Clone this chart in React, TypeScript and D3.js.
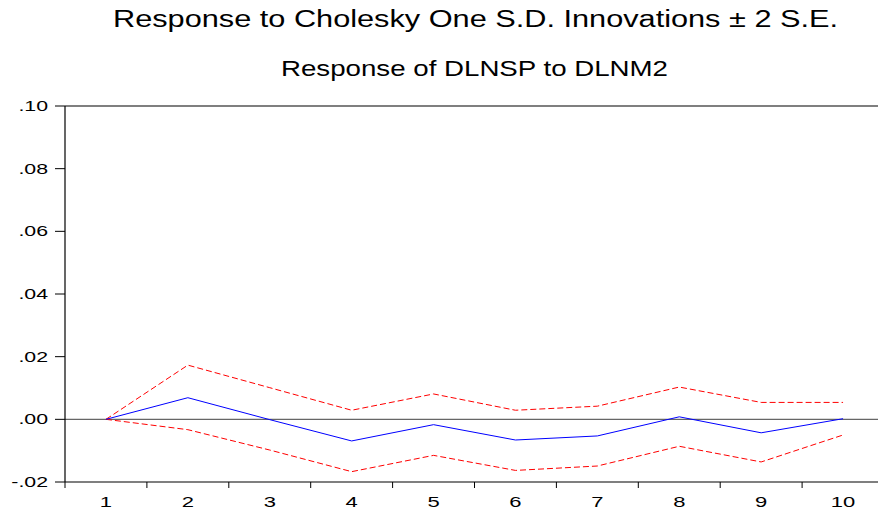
import React from "react";
import * as d3 from "d3";

// Impulse response periods
const periods: string[] = ["1", "2", "3", "4", "5", "6", "7", "8", "9", "10"];
// Response of DLNSP to a Cholesky one S.D. DLNM2 innovation
const response: number[] = [0.0, 0.0069, -0.0001, -0.0069, -0.0017, -0.0066, -0.0053, 0.0008, -0.0043, 0.0002];
// +2 S.E. band
const upperBand: number[] = [0.0, 0.0173, 0.0101, 0.0029, 0.0081, 0.0029, 0.0042, 0.0103, 0.0054, 0.0054];
// -2 S.E. band
const lowerBand: number[] = [0.0, -0.0033, -0.0098, -0.0167, -0.0115, -0.0163, -0.0149, -0.0086, -0.0136, -0.005];
// Y axis ticks
const yTicks: number[] = [-0.02, 0.0, 0.02, 0.04, 0.06, 0.08, 0.1];

const W = 878;
const H = 512;
const left = 65;
const right = 884;
const top = 106;
const bottom = 482;
const labelStretch = 1.42;

const fmt = (v: number) => {
  const s = v.toFixed(2);
  return s.replace(/^(-?)0\./, "$1.");
};

export default function App() {
  const x = d3.scaleBand<string>().domain(periods).range([left, right]).padding(0);
  const y = d3.scaleLinear().domain([-0.02, 0.1]).range([bottom, top]);
  const cx = (i: number) => (x(periods[i]) as number) + x.bandwidth() / 2;
  const line = d3
    .line<number>()
    .x((_, i) => cx(i))
    .y((d) => y(d));

  const boundaries = periods.map((p) => x(p) as number).concat([right]);

  return (
    <svg
      width={W}
      height={H}
      style={{ position: "absolute", left: 0, top: 0, display: "block", background: "#fff" }}
      fontFamily="'Liberation Sans', Arial, sans-serif"
    >
      <text
        x={113}
        y={26.7}
        fontSize={23.5}
        fill="#000"
        textLength={725}
        lengthAdjust="spacingAndGlyphs"
      >
        Response to Cholesky One S.D. Innovations ± 2 S.E.
      </text>
      <text
        x={281}
        y={75.5}
        fontSize={22}
        fill="#000"
        textLength={387}
        lengthAdjust="spacingAndGlyphs"
      >
        Response of DLNSP to DLNM2
      </text>

      {/* zero reference line */}
      <line x1={left} x2={W} y1={y(0)} y2={y(0)} stroke="#666" strokeWidth={1.2} />

      {/* frame: top, left, bottom */}
      <line x1={left} x2={W} y1={top} y2={top} stroke="#000" strokeWidth={1.2} />
      <line x1={left} x2={left} y1={top} y2={bottom} stroke="#000" strokeWidth={1.2} />
      <line x1={left} x2={W} y1={bottom} y2={bottom} stroke="#000" strokeWidth={1.2} />

      {/* y ticks */}
      {yTicks.map((t) => (
        <g key={t}>
          <line x1={left - 10} x2={left} y1={y(t)} y2={y(t)} stroke="#000" strokeWidth={1} />
          <text
            transform={`translate(48,${y(t) + 5}) scale(${labelStretch},1)`}
            textAnchor="end"
            fontSize={15}
            fill="#000"
          >
            {fmt(t)}
          </text>
        </g>
      ))}

      {/* x ticks at period boundaries */}
      {boundaries.map((b, i) => (
        <line key={i} x1={b} x2={b} y1={bottom} y2={bottom + 6} stroke="#000" strokeWidth={1} />
      ))}
      {periods.map((p, i) => (
        <text
          key={p}
          transform={`translate(${cx(i)},506.7) scale(${labelStretch},1)`}
          textAnchor="middle"
          fontSize={15.5}
          fill="#000"
        >
          {p}
        </text>
      ))}

      {/* confidence bands */}
      <path d={line(upperBand) as string} fill="none" stroke="#ff0000" strokeWidth={1} strokeDasharray="6,3" />
      <path d={line(lowerBand) as string} fill="none" stroke="#ff0000" strokeWidth={1} strokeDasharray="6,3" />
      {/* response */}
      <path d={line(response) as string} fill="none" stroke="#0000ff" strokeWidth={1} />
    </svg>
  );
}
